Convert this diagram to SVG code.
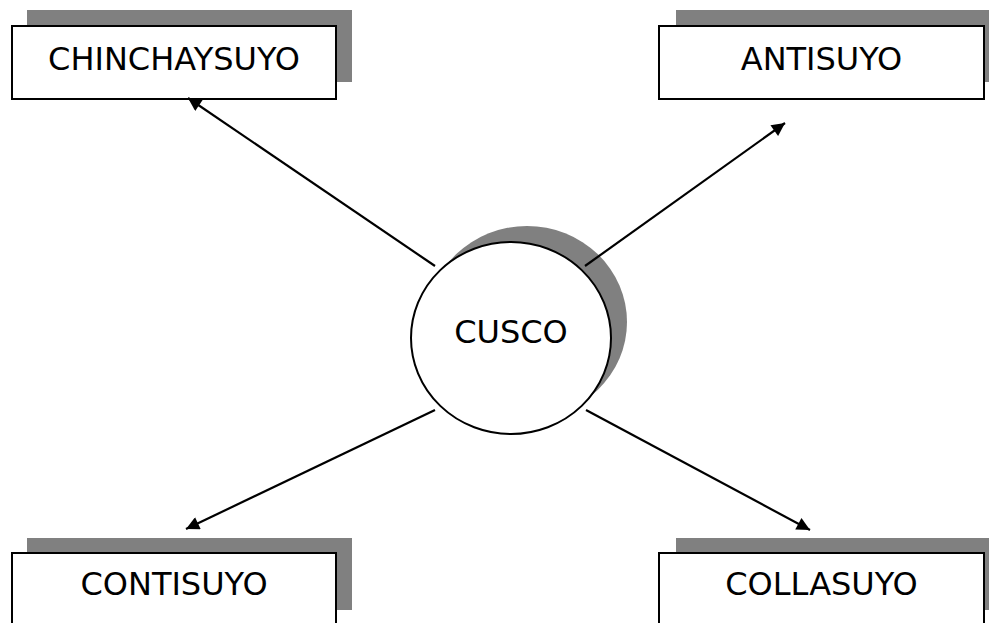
<svg xmlns="http://www.w3.org/2000/svg" width="989" height="623" viewBox="0 0 989 623">
<defs>
<style>
.shadow{fill:#808080;stroke:none}
.box{fill:#fff;stroke:#000;stroke-width:2}
.lbl{font-family:"DejaVu Sans","Liberation Sans",sans-serif;font-size:32px;fill:#000;text-anchor:middle}
.conn{stroke:#000;stroke-width:2.2;fill:none;marker-end:url(#arr)}
</style>
<marker id="arr" viewBox="0 0 10 10" refX="10" refY="5" markerWidth="7" markerHeight="6" markerUnits="strokeWidth" orient="auto">
<path d="M0,0 L10,5 L0,10 z" fill="#000"/>
</marker>
</defs>
<rect width="989" height="623" fill="#fff"/>
<g id="chinchaysuyo">
<rect class="shadow" x="27" y="10" width="325" height="72"/>
<rect class="box" x="12" y="26" width="324" height="73"/>
<text class="lbl" x="174" y="70">CHINCHAYSUYO</text>
</g>
<g id="antisuyo">
<rect class="shadow" x="676" y="10" width="325" height="72"/>
<rect class="box" x="659" y="26" width="325" height="73"/>
<text class="lbl" x="821.5" y="70">ANTISUYO</text>
</g>
<g id="contisuyo">
<rect class="shadow" x="27" y="538" width="325" height="72"/>
<rect class="box" x="12" y="553" width="324" height="80"/>
<text class="lbl" x="174" y="595">CONTISUYO</text>
</g>
<g id="collasuyo">
<rect class="shadow" x="676" y="538" width="325" height="72"/>
<rect class="box" x="659" y="553" width="325" height="80"/>
<text class="lbl" x="821.5" y="595">COLLASUYO</text>
</g>
<g id="cusco">
<ellipse class="shadow" cx="527" cy="322" rx="100" ry="96"/>
<ellipse class="box" cx="511" cy="338" rx="100" ry="96"/>
<text class="lbl" x="511" y="343">CUSCO</text>
</g>
<g id="connectors">
<line class="conn" x1="435" y1="266" x2="188" y2="98"/>
<line class="conn" x1="585" y1="266" x2="785" y2="123"/>
<line class="conn" x1="435" y1="410" x2="186" y2="529"/>
<line class="conn" x1="586" y1="410" x2="810" y2="530"/>
</g>
</svg>
